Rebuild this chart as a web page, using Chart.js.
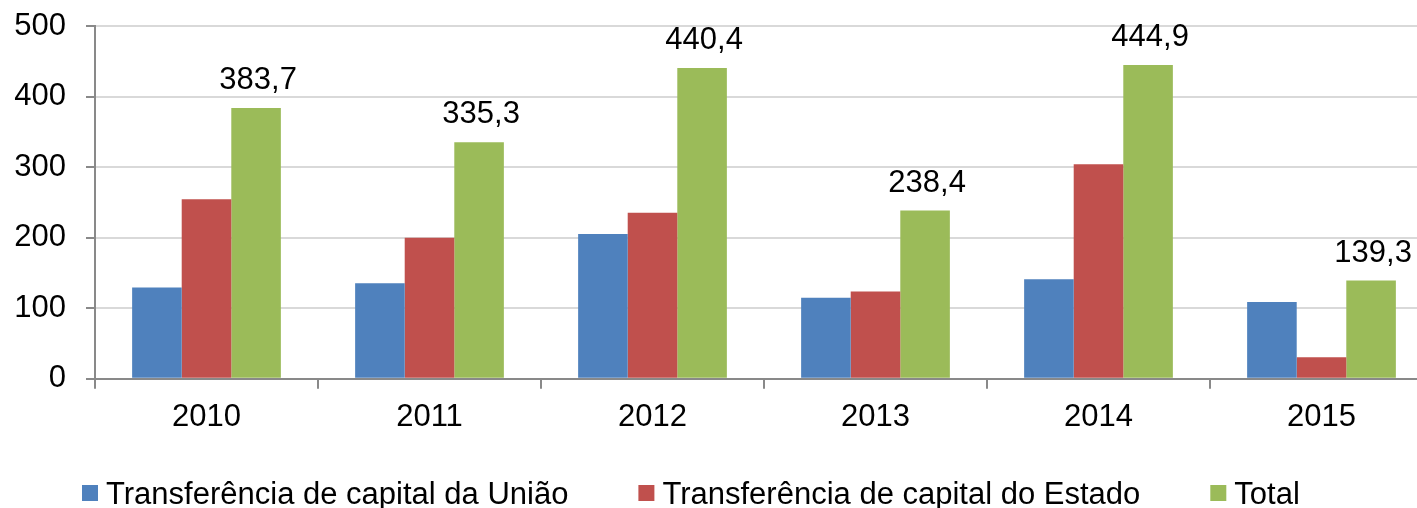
<!DOCTYPE html>
<html><head><meta charset="utf-8">
<script src="https://cdn.jsdelivr.net/npm/chart.js@4"></script>
<style>html,body{margin:0;padding:0;background:#fff;overflow:hidden}#wrap{width:1433px;height:508px;position:relative}</style>
</head><body><div id="wrap"><canvas id="c"></canvas></div>
<script>
const categories = ['2010', '2011', '2012', '2013', '2014', '2015'];
const uniao = [129.4, 135.4, 205.1, 114.8, 141.0, 108.8];
const estado = [254.3, 199.9, 235.3, 123.6, 303.9, 30.5];
const total = [383.7, 335.3, 440.4, 238.4, 444.9, 139.3];
const seriesLabels = ['Transferência de capital da União', 'Transferência de capital do Estado', 'Total'];
const seriesColors = ['#4F81BD', '#C0504D', '#9BBB59'];
const yMin = 0, yMax = 500, yStep = 100;

const FONT = '"Liberation Sans", Arial, sans-serif';
const FS = 31;
const AXIS = '#898989';

const totalsPlugin = {
  id: 'totals',
  afterDatasetsDraw(chart) {
    const meta = chart.getDatasetMeta(2);
    const ds = chart.data.datasets[2].data;
    const ctx = chart.ctx;
    ctx.save();
    ctx.font = FS + 'px ' + FONT;
    ctx.fillStyle = '#000';
    ctx.textAlign = 'center';
    ctx.textBaseline = 'alphabetic';
    meta.data.forEach((bar, i) => {
      ctx.fillText(ds[i].toFixed(1).replace('.', ','), bar.x + 2, bar.y - 19);
    });
    ctx.restore();
  }
};

const legendPlugin = {
  id: 'bottomLegend',
  afterDraw(chart, args, opts) {
    const ctx = chart.ctx;
    ctx.save();
    ctx.font = FS + 'px ' + FONT;
    ctx.textBaseline = 'alphabetic';
    ctx.textAlign = 'left';
    let x = opts.left;
    chart.data.datasets.forEach((ds) => {
      ctx.fillStyle = ds.backgroundColor;
      ctx.fillRect(x, opts.boxTop, opts.box, opts.box);
      x += opts.box + opts.textGap;
      ctx.fillStyle = '#000';
      ctx.fillText(ds.label, x, opts.baseline);
      x += ctx.measureText(ds.label).width + opts.itemGap;
    });
    ctx.restore();
  }
};

new Chart(document.getElementById('c'), {
  type: 'bar',
  data: {
    labels: categories,
    datasets: [
      { label: seriesLabels[0], data: uniao, backgroundColor: seriesColors[0] },
      { label: seriesLabels[1], data: estado, backgroundColor: seriesColors[1] },
      { label: seriesLabels[2], data: total, backgroundColor: seriesColors[2] }
    ]
  },
  options: {
    responsive: true,
    maintainAspectRatio: false,
    animation: false,
    datasets: { bar: { categoryPercentage: 0.667, barPercentage: 1.0, borderWidth: 0 } },
    layout: { padding: { top: 26, left: 0, right: 0, bottom: 62 } },
    plugins: {
      legend: { display: false },
      tooltip: { enabled: false },
      bottomLegend: { left: 82, box: 16, boxTop: 485, textGap: 8, itemGap: 70, baseline: 504 }
    },
    scales: {
      x: {
        offset: true,
        grid: { offset: true, drawOnChartArea: false, drawTicks: true, tickLength: 10, color: AXIS, lineWidth: 2 },
        border: { display: true, color: AXIS, width: 2 },
        ticks: { color: '#000', font: { size: FS, family: FONT }, padding: 10, maxRotation: 0 },
        afterFit(scale) { scale.paddingLeft = 0; scale.paddingRight = 0; }
      },
      y: {
        min: yMin, max: yMax,
        ticks: { stepSize: yStep, color: '#000', font: { size: FS, family: FONT }, padding: 20 },
        grid: { color: '#D9D9D9', lineWidth: 2, drawTicks: true, tickLength: 9, tickColor: AXIS },
        border: { display: true, color: AXIS, width: 2 },
        afterFit(scale) { scale.width = 95; scale.paddingTop = 0; scale.paddingBottom = 0; }
      }
    }
  },
  plugins: [totalsPlugin, legendPlugin]
});
</script>
</body></html>
